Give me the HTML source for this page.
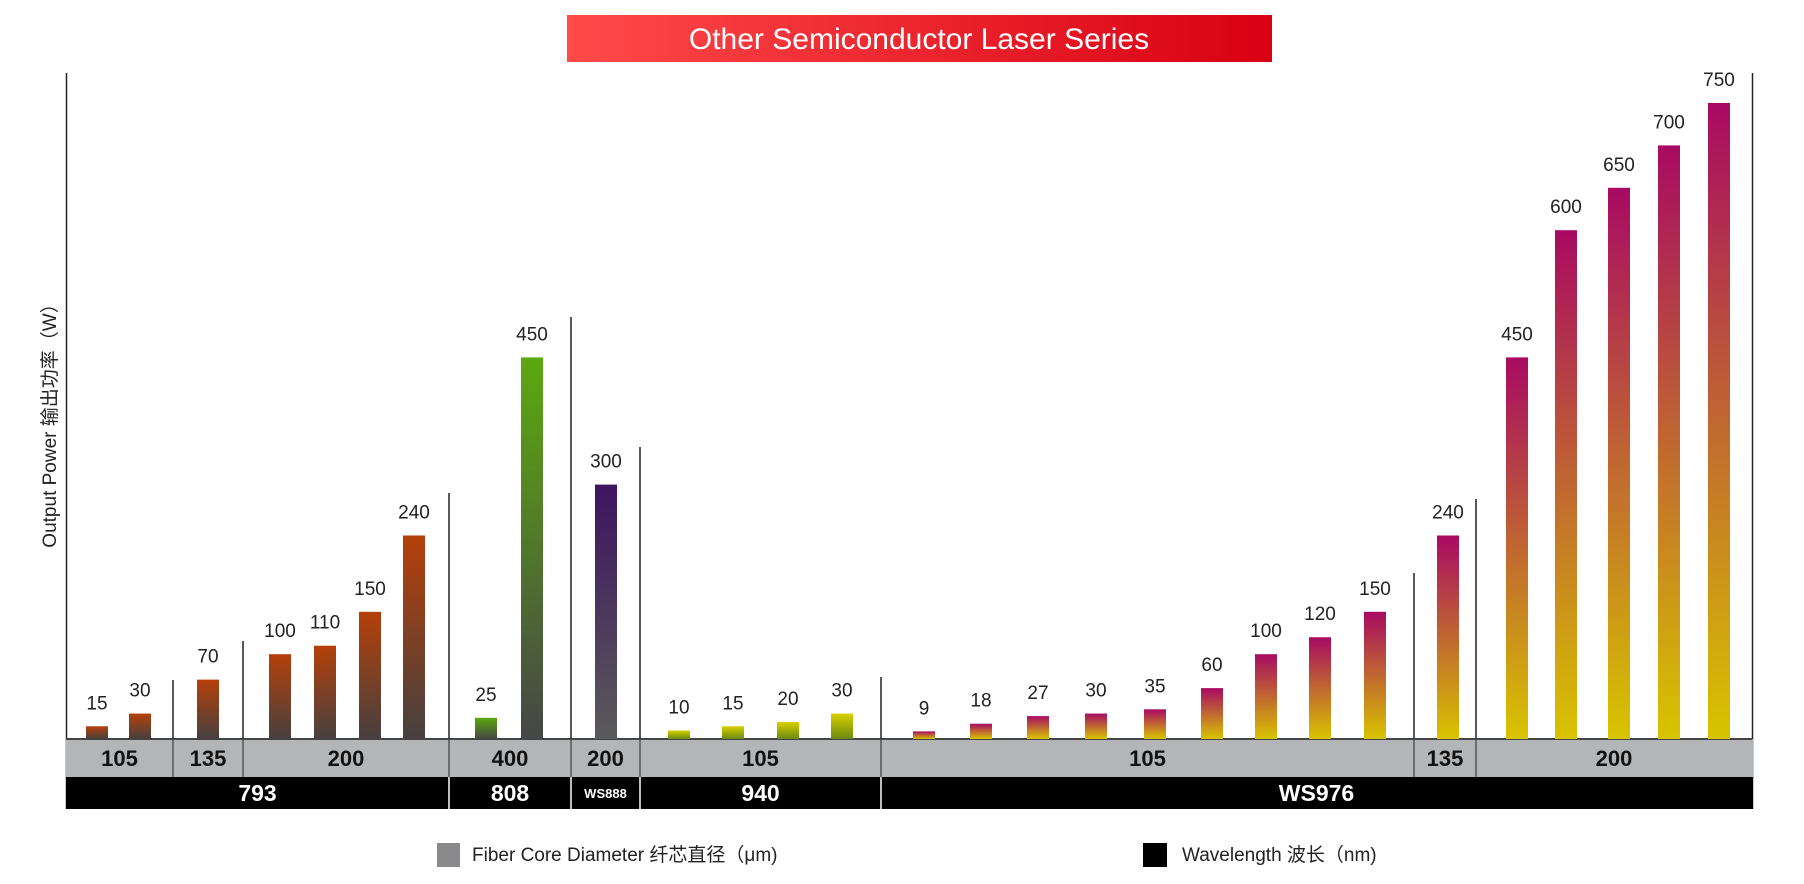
<!DOCTYPE html>
<html><head><meta charset="utf-8"><style>
html,body{margin:0;padding:0;background:#fff;width:1804px;height:884px;overflow:hidden}
svg text{font-family:"Liberation Sans","Noto Sans CJK SC",sans-serif}
</style></head><body>
<svg id="chart" width="1804" height="884" viewBox="0 0 1804 884" xmlns="http://www.w3.org/2000/svg">
<defs>
<linearGradient id="gTitle" x1="0" y1="0" x2="1" y2="0"><stop offset="0" stop-color="#ff4a4a"/><stop offset="1" stop-color="#d80012"/></linearGradient>
<linearGradient id="g793" x1="0" y1="0" x2="0" y2="1"><stop offset="0" stop-color="#b5400a"/><stop offset="1" stop-color="#46403f"/></linearGradient>
<linearGradient id="g808" x1="0" y1="0" x2="0" y2="1"><stop offset="0" stop-color="#5ca810"/><stop offset="1" stop-color="#464646"/></linearGradient>
<linearGradient id="g888" x1="0" y1="0" x2="0" y2="1"><stop offset="0" stop-color="#3e1560"/><stop offset="1" stop-color="#5a5a5a"/></linearGradient>
<linearGradient id="g940" x1="0" y1="0" x2="0" y2="1"><stop offset="0" stop-color="#d8d000"/><stop offset="1" stop-color="#6a8a10"/></linearGradient>
<linearGradient id="g976" x1="0" y1="0" x2="0" y2="1"><stop offset="0" stop-color="#a80a62"/><stop offset="1" stop-color="#d8c400"/></linearGradient>
</defs>
<rect x="567" y="15" width="705" height="47" fill="url(#gTitle)"/>
<text x="919" y="49" font-size="30" fill="#fff" text-anchor="middle">Other Semiconductor Laser Series</text>
<text transform="translate(56,421) rotate(-90)" font-size="19" fill="#222" text-anchor="middle">Output Power  输出功率（W）</text>
<line x1="66.5" y1="73" x2="66.5" y2="809" stroke="#222" stroke-width="1.5"/>
<line x1="1752.5" y1="73" x2="1752.5" y2="809" stroke="#222" stroke-width="1.5"/>
<g id="bands"></g>
<g id="seps"></g>
<g id="bars"></g>
<rect x="437" y="843" width="23" height="24" fill="#8a8a8c"/>
<text x="472" y="861" font-size="19" fill="#222">Fiber Core Diameter  纤芯直径（μm)</text>
<rect x="1143" y="843" width="24" height="24" fill="#000"/>
<text x="1182" y="861" font-size="19" fill="#222">Wavelength  波长（nm)</text>
</svg>
<script>
const values=[15,30,70,100,110,150,240,25,450,300,10,15,20,30,9,18,27,30,35,60,100,120,150,240,450,600,650,700,750];
const series=['793','793','793','793','793','793','793','808','808','888','940','940','940','940','976','976','976','976','976','976','976','976','976','976','976','976','976','976','976'];
const fiberLabels=['105','135','200','400','200','105','105','135','200'];
const waveLabels=['793','808','WS888','940','WS976'];
// layout (pixel positions, not data)
const barCenters=[97,140,208,280,325,370,414,486,532,606,679,733,788,842,924,981,1038,1096,1155,1212,1266,1320,1375,1448,1517,1566,1619,1669,1719];
const fiberEdges=[66,173,243,449,571,640,881,1414,1476,1752];
const waveEdges=[66,449,571,640,881,1752];
const sepTops=[680,641,493,317,447,677,573,499];
const sepX=[173,243,449,571,640,881,1414,1476];
const base=739,bandH=38,blackH=32,k=0.848,bw=22;
const yScale=v=>base-v*k;
const NS='http://www.w3.org/2000/svg';
function mk(tag,attrs,parent){const e=document.createElementNS(NS,tag);for(const a in attrs)e.setAttribute(a,attrs[a]);document.getElementById(parent).appendChild(e);return e;}
const by=base+bandH;
let r=mk('rect',{x:66,y:base,width:1687,height:bandH,fill:'#b4b5b7'},'bands');


r=mk('rect',{x:66,y:by,width:1687,height:blackH,fill:'#000'},'bands');


let l=mk('line',{x1:66,y1:base,x2:1752,y2:base,stroke:'#444','stroke-width':2},'bands');


fiberLabels.forEach((t,i)=>{const e=mk('text',{x:(fiberEdges[i]+fiberEdges[i+1])/2,y:base+27,'font-size':22,'font-weight':'bold',fill:'#111','text-anchor':'middle'},'bands');e.textContent=t;

});
waveLabels.forEach((t,i)=>{const small=t==='WS888';const e=mk('text',{x:(waveEdges[i]+waveEdges[i+1])/2,y:small?by+21:by+24,'font-size':small?13:23,'font-weight':'bold',fill:'#fff','text-anchor':'middle'},'bands');e.textContent=t;

});
sepX.forEach((x,i)=>{
 const full=[449,571,640,881].includes(x);
 const a=mk('line',{x1:x,y1:sepTops[i],x2:x,y2:base,stroke:'#222','stroke-width':1.5},'seps');
 
 
 const b=mk('line',{x1:x,y1:base,x2:x,y2:by,stroke:'#555','stroke-width':1.5},'seps');
 
 
 if(full){const c=mk('line',{x1:x,y1:by,x2:x,y2:by+blackH,stroke:'#fff','stroke-width':1.5},'seps');
 
 }
});
values.forEach((v,i)=>{
 const y=yScale(v),cx=barCenters[i];
 const b=mk('rect',{x:cx-bw/2,y:y,width:bw,height:base-y,fill:'url(#g'+series[i]+')'},'bars');
 
 
 const t=mk('text',{x:cx,y:y-17,'font-size':19,fill:'#222','text-anchor':'middle'},'bars');t.textContent=v;
 
 
});
</script>
</body></html>
